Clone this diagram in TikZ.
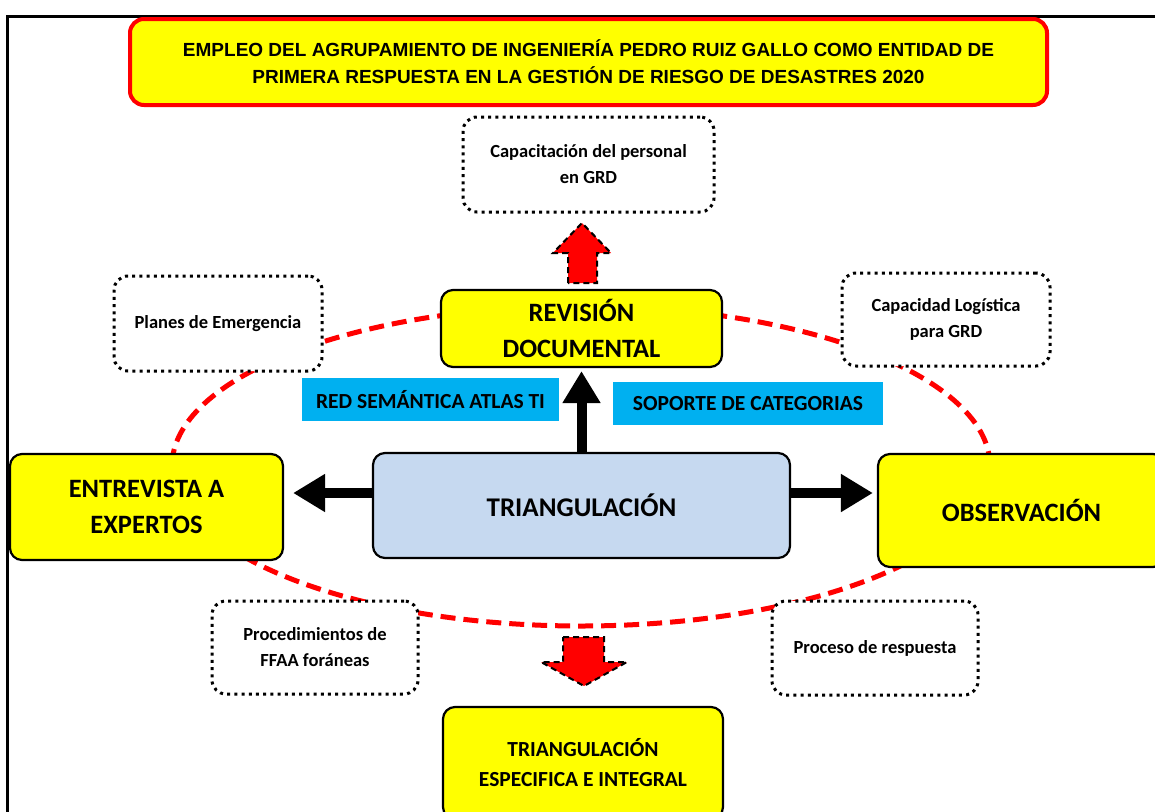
\documentclass[tikz,border=0pt]{standalone}
\usepackage{fontspec}
\setmainfont{Carlito}
\newfontfamily\titlefont{Liberation Sans}
\usetikzlibrary{arrows.meta}
\definecolor{yel}{HTML}{FFFF00}
\definecolor{lblue}{HTML}{00B0F0}
\definecolor{tblue}{HTML}{C6D9F0}
\definecolor{rred}{HTML}{FF0000}
\begin{document}
\begin{tikzpicture}[x=1pt,y=-1pt,
  box/.style={draw=black, line width=2.2pt, rounded corners=12pt, fill=yel, align=center, inner sep=0pt, font=\bfseries\fontsize{26.5}{36}\selectfont},
  dotbox/.style={draw=black, line width=3pt, dash pattern=on 3pt off 4.2pt, rounded corners=14pt, fill=white, align=center, inner sep=0pt, font=\bfseries\fontsize{18.5}{26}\selectfont},
  tagbox/.style={fill=lblue, inner sep=0pt, font=\bfseries\fontsize{21.5}{26}\selectfont},
  bigarrow/.style={draw=black, line width=10pt, -{Triangle[length=32pt,width=36pt]}},
  blockarrow/.style={fill=rred, draw=black, line width=2pt, dash pattern=on 6pt off 4pt},
  ring/.style={draw=rred, line width=5pt, dash pattern=on 15pt off 8pt}
]
\useasboundingbox (0,0) rectangle (1155,811);
\fill[white] (0,0) rectangle (1155,811);
\draw[line width=2.5pt] (7.5,16.5) rectangle (1180,840);

% dashed ellipse
\draw[ring] (581,466) ellipse [x radius=409pt, y radius=160pt];

% title
\node[draw=rred, line width=4pt, rounded corners=14pt, fill=yel, align=center, inner sep=0pt,
  minimum width=917pt, minimum height=86pt,
  font=\titlefont\bfseries\fontsize{19}{27}\selectfont] (title) at (588.5,62)
  {EMPLEO DEL AGRUPAMIENTO DE INGENIERÍA PEDRO RUIZ GALLO COMO ENTIDAD DE\\PRIMERA RESPUESTA EN LA GESTIÓN DE RIESGO DE DESASTRES 2020};

% dotted boxes
\node[dotbox, minimum width=251pt, minimum height=95pt] (cap) at (588.5,164.5) {Capacitación del personal\\en GRD};
\node[dotbox, minimum width=208pt, minimum height=95pt] (plan) at (218,323.5) {Planes de Emergencia};
\node[dotbox, minimum width=208pt, minimum height=93pt] (logi) at (946,319.5) {Capacidad Logística\\para GRD};
\node[dotbox, minimum width=206pt, minimum height=93pt] (proc) at (315,647.5) {Procedimientos de\\FFAA foráneas};
\node[dotbox, minimum width=206pt, minimum height=94pt] (resp) at (875,648) {Proceso de respuesta};

% main boxes
\node[box, minimum width=281pt, minimum height=77pt] (rev) at (581.5,328.5) {REVISIÓN\\DOCUMENTAL};
\node[box, fill=tblue, minimum width=417pt, minimum height=105pt, font=\bfseries\fontsize{27}{36}\selectfont] (tri) at (581.5,505.5) {TRIANGULACIÓN};
\node[box, minimum width=273pt, minimum height=106pt] (ent) at (146.5,507) {ENTREVISTA A\\EXPERTOS};
\node[box, minimum width=287pt, minimum height=113pt] (obs) at (1021.5,510.5) {OBSERVACIÓN};
\node[box, minimum width=280pt, minimum height=112pt, font=\bfseries\fontsize{21.5}{30}\selectfont] (fin) at (583,763) {TRIANGULACIÓN\\ESPECIFICA E INTEGRAL};

% blue tags
\node[tagbox, minimum width=257pt, minimum height=43pt] (red) at (430.5,399.5) {RED SEMÁNTICA ATLAS TI};
\node[tagbox, minimum width=270pt, minimum height=43pt] (sop) at (748,403.5) {SOPORTE DE CATEGORIAS};

% black arrows
\draw[bigarrow, shorten >=3pt] (tri.north) -- (rev.south);
\draw[bigarrow, shorten >=9pt] ([yshift=12.5pt]tri.west) -- ([yshift=12.5pt]tri.west -| ent.east);
\draw[bigarrow, shorten >=4pt] ([yshift=12.5pt]tri.east) -- ([yshift=12.5pt]tri.east -| obs.west);

% red block arrows
\draw[blockarrow] (568,283) -- (568,253) -- (553,253) -- (582,223) -- (611,253) -- (597,253) -- (597,283) -- cycle;
\draw[blockarrow] (563,637) -- (604,637) -- (604,662) -- (627,662) -- (584,686) -- (541,662) -- (563,662) -- cycle;
\end{tikzpicture}
\end{document}
